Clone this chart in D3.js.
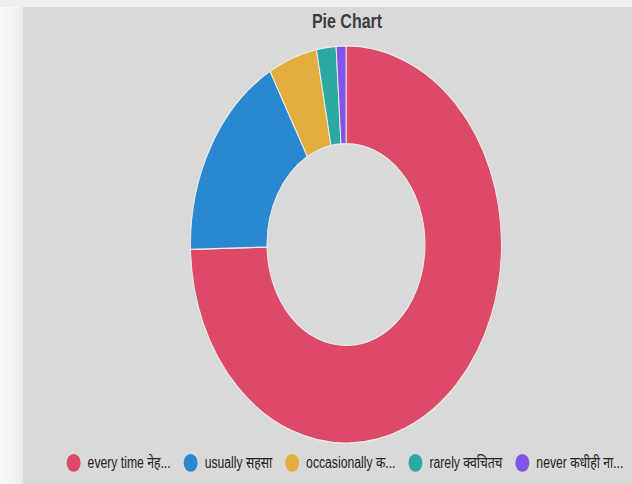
<!DOCTYPE html>
<html>
<head>
<meta charset="utf-8">
<script src="https://cdn.jsdelivr.net/npm/d3@7"></script>
<style>
  html, body { margin: 0; padding: 0; background: #f7f7f7; }
  svg { display: block; }
</style>
</head>
<body>
<div class="container"></div>
<script>
const categories = ["every time नेहमी", "usually सहसा", "occasionally कधीकधी", "rarely क्वचितच", "never कधीही नाही"];
const legendLabels = ["every time नेह...", "usually सहसा", "occasionally क...", "rarely क्वचितच", "never कधीही ना..."];
const counts = [147, 34, 10, 4, 2];
const colors = ["#dc4a68", "#2a88d1", "#e2ad3d", "#2ba8a1", "#8153e6"];

const width = 632;
const height = 379; // logical height, stretched to 484 on screen
const cx = 346, cy = 191.5;
const outerR = 155.5, innerR = 79;

const svg = d3.select('.container')
  .append('svg')
  .attr('width', 632)
  .attr('height', 484)
  .attr('viewBox', `0 0 ${width} ${height}`)
  .attr('preserveAspectRatio', 'none');

// page + panel background
const defs = svg.append('defs');
const grad = defs.append('linearGradient').attr('id', 'side').attr('x1', 0).attr('x2', 1);
grad.append('stop').attr('offset', '0%').attr('stop-color', '#f9f9f9');
grad.append('stop').attr('offset', '60%').attr('stop-color', '#f4f4f4');
grad.append('stop').attr('offset', '100%').attr('stop-color', '#e9e9e9');

svg.append('rect').attr('width', width).attr('height', height).attr('fill', '#f7f7f7');
svg.append('rect').attr('width', width).attr('height', 5.5).attr('fill', '#eeeeee');
svg.append('rect').attr('y', 5.5).attr('width', 23).attr('height', height).attr('fill', 'url(#side)');
svg.append('rect')
  .attr('x', 23).attr('y', 5.5)
  .attr('width', width - 23).attr('height', height - 5.5)
  .attr('fill', '#d9d9d9');

svg.append('text')
  .attr('x', cx + 1)
  .attr('y', 22)
  .attr('text-anchor', 'middle')
  .attr('font-family', 'Liberation Sans, Arial, sans-serif')
  .attr('font-weight', 'bold')
  .attr('font-size', '16px')
  .attr('fill', '#3d3d3d')
  .text('Pie Chart');

const pie = d3.pie().sort(null).value(d => d);
const arc = d3.arc().innerRadius(innerR).outerRadius(outerR);

const g = svg.append('g').attr('transform', `translate(${cx},${cy})`);
g.selectAll('path')
  .data(pie(counts))
  .enter()
  .append('path')
  .attr('d', arc)
  .attr('fill', (d, i) => colors[i])
  .attr('stroke', '#ececec')
  .attr('stroke-width', 1);

// legend
const legend = svg.append('g').attr('class', 'legend');
const items = legend.selectAll('g')
  .data(legendLabels)
  .enter()
  .append('g');

items.append('circle')
  .attr('r', 7)
  .attr('cy', 0)
  .attr('fill', (d, i) => colors[i]);

items.append('text')
  .attr('x', 14)
  .attr('y', 4.3)
  .attr('font-family', 'Liberation Sans, Arial, "Noto Sans", sans-serif')
  .attr('font-size', '12.2px')
  .attr('fill', '#222')
  .text(d => d);

let x = 0;
const offsets = [];
items.each(function () {
  const w = d3.select(this).select('text').node().getComputedTextLength();
  offsets.push(x);
  x += 14 + w + 20;
});
const total = x - 20 + 7;
const startX = Math.min(cx - 1 - total / 2 + 7, width - 8 - total + 7);
items.attr('transform', (d, i) => `translate(${startX + offsets[i]},362.5)`);
</script>
</body>
</html>
